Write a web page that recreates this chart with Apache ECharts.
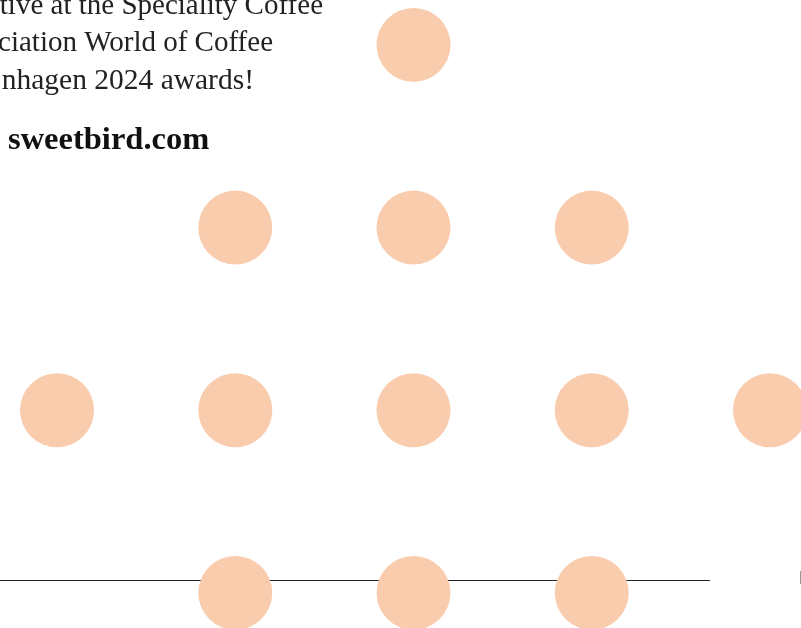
<!DOCTYPE html>
<html>
<head>
<meta charset="utf-8">
<script src="https://cdn.jsdelivr.net/npm/echarts@6/dist/echarts.min.js"></script>
<style>
  html, body { margin: 0; padding: 0; background: #fff; }
  #dots { width: 801px; height: 628px; }
</style>
</head>
<body>
<div id="dots"></div>
<script>
// columns (x) and rows (y) of each dot
var dotCols = [3, 2, 3, 4, 1, 2, 3, 4, 5, 2, 3, 4];
var dotRows = [4, 3, 3, 3, 2, 2, 2, 2, 2, 1, 1, 1];
var textLines = [
    'tive at the Speciality Coffee',
    'ciation World of Coffee',
    'nhagen 2024 awards!'
];
var linkText = 'sweetbird.com';

var points = dotCols.map(function (c, i) { return [c, dotRows[i]]; });

var myChart = echarts.init(document.getElementById('dots'));
myChart.setOption({
    animation: false,
    grid: {  // 铺满画布
        left: 0,
        right: 0,
        top: 0,
        bottom: 0
    },
    xAxis: {
        type: 'value',
        min: 0.68,
        max: 5.174,
        show: false
    },
    yAxis: {
        type: 'value',
        min: 0.808,
        max: 4.246,
        show: false
    },
    graphic: [
        {   // 底部横线
            type: 'line',
            z: 0,
            shape: { x1: 0, y1: 580.5, x2: 710, y2: 580.5 },
            style: { stroke: '#222', lineWidth: 1.2 }
        },
        {
            type: 'line',
            shape: { x1: 800.5, y1: 571, x2: 800.5, y2: 584 },
            style: { stroke: '#999', lineWidth: 1 }
        },
        {
            type: 'text', right: 478, top: -8,
            style: { text: textLines[0], font: '29px "Liberation Serif"', fill: '#222' }
        },
        {
            type: 'text', right: 528, top: 29,
            style: { text: textLines[1], font: '29px "Liberation Serif"', fill: '#222' }
        },
        {
            type: 'text', right: 547, top: 66,
            style: { text: textLines[2], font: '29.5px "Liberation Serif"', fill: '#222' }
        },
        {
            type: 'text', left: 8, top: 124,
            style: { text: linkText, font: 'bold 32.5px "Liberation Serif"', fill: '#111' }
        }
    ],
    series: [{
        type: 'scatter',
        z: 5,
        symbolSize: 74,
        data: points,
        itemStyle: {
            color: '#F9CCAE',
            opacity: 1
        }
    }]
});
</script>
</body>
</html>
